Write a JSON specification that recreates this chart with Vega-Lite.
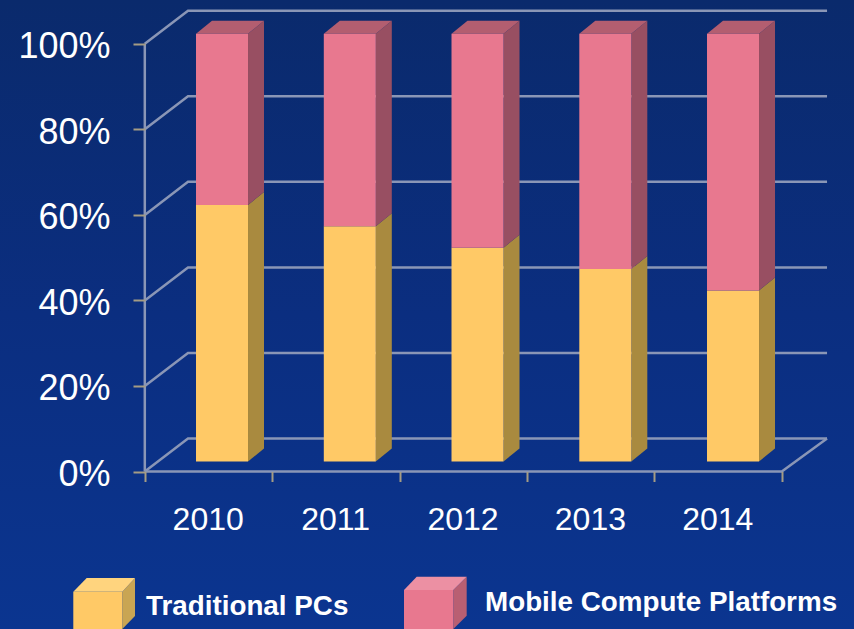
{
"$schema":"https://vega.github.io/schema/vega-lite/v6.json",
"width":854,"height":629,"padding":0,"autosize":"none","background":"#0b3085",
"config":{"view":{"stroke":null},"font":"Liberation Sans"},
"datasets":{
"backdrop":[{"x":2008.3634,"x2":2015.0667,"y":-36.82,"y2":110.24}],
"grid":[
{"line":"wall","x":2009.5,"y":0},{"line":"wall","x":2009.5,"y":100},
{"line":"floor","x":2009.5,"y":0},{"line":"floor","x":2014.5,"y":0},{"line":"floor","x":2014.8551,"y":7.72},
{"line":"g0","x":2009.5,"y":0},{"line":"g0","x":2009.8391,"y":7.72},{"line":"g0","x":2014.8551,"y":7.72},
{"line":"g20","x":2009.5,"y":20},{"line":"g20","x":2009.8391,"y":27.72},{"line":"g20","x":2014.8551,"y":27.72},
{"line":"g40","x":2009.5,"y":40},{"line":"g40","x":2009.8391,"y":47.72},{"line":"g40","x":2014.8551,"y":47.72},
{"line":"g60","x":2009.5,"y":60},{"line":"g60","x":2009.8391,"y":67.72},{"line":"g60","x":2014.8551,"y":67.72},
{"line":"g80","x":2009.5,"y":80},{"line":"g80","x":2009.8391,"y":87.72},{"line":"g80","x":2014.8551,"y":87.72},
{"line":"g100","x":2009.5,"y":100},{"line":"g100","x":2009.8391,"y":107.72},{"line":"g100","x":2014.8551,"y":107.72}
],
"faces":[
{"face":"2010T","part":"Traditional PCs side","x":2010.3101,"y":0,"y2":60},{"face":"2010T","part":"Traditional PCs side","x":2010.4357,"y":3.04,"y2":63.04},
{"face":"2010M","part":"Mobile Compute Platforms side","x":2010.3101,"y":60,"y2":100},{"face":"2010M","part":"Mobile Compute Platforms side","x":2010.4357,"y":63.04,"y2":103.04},
{"face":"2011T","part":"Traditional PCs side","x":2011.3132,"y":0,"y2":55},{"face":"2011T","part":"Traditional PCs side","x":2011.4388,"y":3.04,"y2":58.04},
{"face":"2011M","part":"Mobile Compute Platforms side","x":2011.3132,"y":55,"y2":100},{"face":"2011M","part":"Mobile Compute Platforms side","x":2011.4388,"y":58.04,"y2":103.04},
{"face":"2012T","part":"Traditional PCs side","x":2012.3156,"y":0,"y2":50},{"face":"2012T","part":"Traditional PCs side","x":2012.4412,"y":3.04,"y2":53.04},
{"face":"2012M","part":"Mobile Compute Platforms side","x":2012.3156,"y":50,"y2":100},{"face":"2012M","part":"Mobile Compute Platforms side","x":2012.4412,"y":53.04,"y2":103.04},
{"face":"2013T","part":"Traditional PCs side","x":2013.3187,"y":0,"y2":45},{"face":"2013T","part":"Traditional PCs side","x":2013.4443,"y":3.04,"y2":48.04},
{"face":"2013M","part":"Mobile Compute Platforms side","x":2013.3187,"y":45,"y2":100},{"face":"2013M","part":"Mobile Compute Platforms side","x":2013.4443,"y":48.04,"y2":103.04},
{"face":"2014T","part":"Traditional PCs side","x":2014.3211,"y":0,"y2":40},{"face":"2014T","part":"Traditional PCs side","x":2014.4467,"y":3.04,"y2":43.04},
{"face":"2014M","part":"Mobile Compute Platforms side","x":2014.3211,"y":40,"y2":100},{"face":"2014M","part":"Mobile Compute Platforms side","x":2014.4467,"y":43.04,"y2":103.04},
{"face":"2010top","part":"Mobile Compute Platforms top","x":2009.9019,"y":100,"y2":100},{"face":"2010top","part":"Mobile Compute Platforms top","x":2010.0275,"y":100,"y2":103.04},{"face":"2010top","part":"Mobile Compute Platforms top","x":2010.3101,"y":100,"y2":103.04},{"face":"2010top","part":"Mobile Compute Platforms top","x":2010.4357,"y":103.04,"y2":103.04},
{"face":"2011top","part":"Mobile Compute Platforms top","x":2010.9050,"y":100,"y2":100},{"face":"2011top","part":"Mobile Compute Platforms top","x":2011.0306,"y":100,"y2":103.04},{"face":"2011top","part":"Mobile Compute Platforms top","x":2011.3132,"y":100,"y2":103.04},{"face":"2011top","part":"Mobile Compute Platforms top","x":2011.4388,"y":103.04,"y2":103.04},
{"face":"2012top","part":"Mobile Compute Platforms top","x":2011.9074,"y":100,"y2":100},{"face":"2012top","part":"Mobile Compute Platforms top","x":2012.0330,"y":100,"y2":103.04},{"face":"2012top","part":"Mobile Compute Platforms top","x":2012.3156,"y":100,"y2":103.04},{"face":"2012top","part":"Mobile Compute Platforms top","x":2012.4412,"y":103.04,"y2":103.04},
{"face":"2013top","part":"Mobile Compute Platforms top","x":2012.9105,"y":100,"y2":100},{"face":"2013top","part":"Mobile Compute Platforms top","x":2013.0361,"y":100,"y2":103.04},{"face":"2013top","part":"Mobile Compute Platforms top","x":2013.3187,"y":100,"y2":103.04},{"face":"2013top","part":"Mobile Compute Platforms top","x":2013.4443,"y":103.04,"y2":103.04},
{"face":"2014top","part":"Mobile Compute Platforms top","x":2013.9129,"y":100,"y2":100},{"face":"2014top","part":"Mobile Compute Platforms top","x":2014.0385,"y":100,"y2":103.04},{"face":"2014top","part":"Mobile Compute Platforms top","x":2014.3211,"y":100,"y2":103.04},{"face":"2014top","part":"Mobile Compute Platforms top","x":2014.4467,"y":103.04,"y2":103.04}
],
"bars":[
{"year":2010,"part":"Traditional PCs","x":2009.9019,"x2":2010.3101,"y":0,"y2":60},
{"year":2010,"part":"Mobile Compute Platforms","x":2009.9019,"x2":2010.3101,"y":60,"y2":100},
{"year":2011,"part":"Traditional PCs","x":2010.9050,"x2":2011.3132,"y":0,"y2":55},
{"year":2011,"part":"Mobile Compute Platforms","x":2010.9050,"x2":2011.3132,"y":55,"y2":100},
{"year":2012,"part":"Traditional PCs","x":2011.9074,"x2":2012.3156,"y":0,"y2":50},
{"year":2012,"part":"Mobile Compute Platforms","x":2011.9074,"x2":2012.3156,"y":50,"y2":100},
{"year":2013,"part":"Traditional PCs","x":2012.9105,"x2":2013.3187,"y":0,"y2":45},
{"year":2013,"part":"Mobile Compute Platforms","x":2012.9105,"x2":2013.3187,"y":45,"y2":100},
{"year":2014,"part":"Traditional PCs","x":2013.9129,"x2":2014.3211,"y":0,"y2":40},
{"year":2014,"part":"Mobile Compute Platforms","x":2013.9129,"x2":2014.3211,"y":40,"y2":100}
],
"keyFaces":[
{"face":"Tside","part":"key Traditional PCs side","x":2009.3234,"y":-36.82,"y2":-28.1},{"face":"Tside","part":"key Traditional PCs side","x":2009.4231,"y":-33.79,"y2":-24.9},
{"face":"Ttop","part":"key Traditional PCs top","x":2008.9387,"y":-28.1,"y2":-28.1},{"face":"Ttop","part":"key Traditional PCs top","x":2009.0439,"y":-28.1,"y2":-24.9},{"face":"Ttop","part":"key Traditional PCs top","x":2009.3234,"y":-28.1,"y2":-24.9},{"face":"Ttop","part":"key Traditional PCs top","x":2009.4231,"y":-24.9,"y2":-24.9},
{"face":"Mside","part":"key Mobile side","x":2011.9215,"y":-36.82,"y2":-27.71},{"face":"Mside","part":"key Mobile side","x":2012.0266,"y":-33.72,"y2":-24.6},
{"face":"Mtop","part":"key Mobile top","x":2011.5345,"y":-27.71,"y2":-27.71},{"face":"Mtop","part":"key Mobile top","x":2011.6342,"y":-27.71,"y2":-24.6},{"face":"Mtop","part":"key Mobile top","x":2011.9215,"y":-27.71,"y2":-24.6},{"face":"Mtop","part":"key Mobile top","x":2012.0266,"y":-24.6,"y2":-24.6}
],
"keyFronts":[
{"part":"Traditional PCs","x":2008.9387,"x2":2009.3234,"y":-36.82,"y2":-28.1},
{"part":"Mobile Compute Platforms","x":2011.5345,"x2":2011.9215,"y":-36.82,"y2":-27.71}
],
"keyLabels":[
{"label":"Traditional PCs","x":2009.5094,"y":-31.68},
{"label":"Mobile Compute Platforms","x":2012.1703,"y":-30.75}
]
},
"encoding":{
"x":{"field":"x","type":"quantitative","title":null,"scale":{"domain":[2008.3634,2015.0667],"nice":false,"zero":false},
 "axis":{"orient":"bottom","offset":-157.5,"values":[2009.5,2010.5,2011.5,2012.5,2013.5,2014.5],"labelExpr":"datum.value>2014?'':format(datum.value+0.5,'d')","labelOffset":62.9,"labelFontSize":32,"labelColor":"#ffffff","labelFont":"Liberation Sans","labelPadding":23,"labelOverlap":false,"labelFlush":false,"labelBound":false,"grid":false,"domain":false,"tickColor":"#a59c84","tickWidth":2,"tickSize":10,"zindex":1}},
"y":{"field":"y","type":"quantitative","title":null,"scale":{"domain":[-36.82,110.24],"nice":false,"zero":false},
 "axis":{"orient":"left","offset":-145,"values":[0,20,40,60,80,100],"labelExpr":"datum.value+'%'","labelOffset":3,"labelFontSize":36,"labelColor":"#ffffff","labelFont":"Liberation Sans","labelPadding":23,"labelOverlap":false,"labelFlush":false,"labelBound":false,"grid":false,"domain":false,"tickColor":"#a59c84","tickWidth":2,"tickSize":12,"zindex":1}}
},
"layer":[
{"data":{"name":"backdrop"},
 "mark":{"type":"rect","color":{"gradient":"linear","x1":0,"y1":0,"x2":0,"y2":1,"stops":[{"offset":0,"color":"#0a2a6c"},{"offset":0.5,"color":"#0b2e80"},{"offset":1,"color":"#0b3590"}]}},
 "encoding":{"x2":{"field":"x2"},"y2":{"field":"y2"}}},
{"data":{"name":"grid"},
 "mark":{"type":"line","color":"#8a96b6","strokeWidth":2.5},
 "encoding":{"detail":{"field":"line"},"order":{"value":null}}},
{"data":{"name":"faces"},
 "mark":{"type":"area","opacity":1,"yOffset":-10,"y2Offset":-10,"interpolate":"linear"},
 "encoding":{"y2":{"field":"y2"},"detail":{"field":"face"},
  "color":{"field":"part","type":"nominal","legend":null,"scale":{"domain":["Traditional PCs","Mobile Compute Platforms","Traditional PCs side","Mobile Compute Platforms side","Mobile Compute Platforms top","key Traditional PCs side","key Traditional PCs top","key Mobile side","key Mobile top"],"range":["#ffc966","#e8788f","#a98a3f","#984f62","#b35e70","#c9a553","#ffd47e","#b95f72","#ec90a3"]}}}},
{"data":{"name":"bars"},
 "mark":{"type":"rect","opacity":1,"yOffset":-10,"y2Offset":-10},
 "encoding":{"x2":{"field":"x2"},"y2":{"field":"y2"},"color":{"field":"part","type":"nominal","legend":null}}},
{"data":{"name":"keyFaces"},
 "mark":{"type":"area","opacity":1},
 "encoding":{"y2":{"field":"y2"},"detail":{"field":"face"},"color":{"field":"part","type":"nominal","legend":null}}},
{"data":{"name":"keyFronts"},
 "mark":{"type":"rect","opacity":1},
 "encoding":{"x2":{"field":"x2"},"y2":{"field":"y2"},"color":{"field":"part","type":"nominal","legend":null}}},
{"data":{"name":"keyLabels"},
 "mark":{"type":"text","align":"left","baseline":"middle","font":"Liberation Sans","fontWeight":"bold","fontSize":27.8,"color":"#ffffff"},
 "encoding":{"text":{"field":"label"}}}
]
}
